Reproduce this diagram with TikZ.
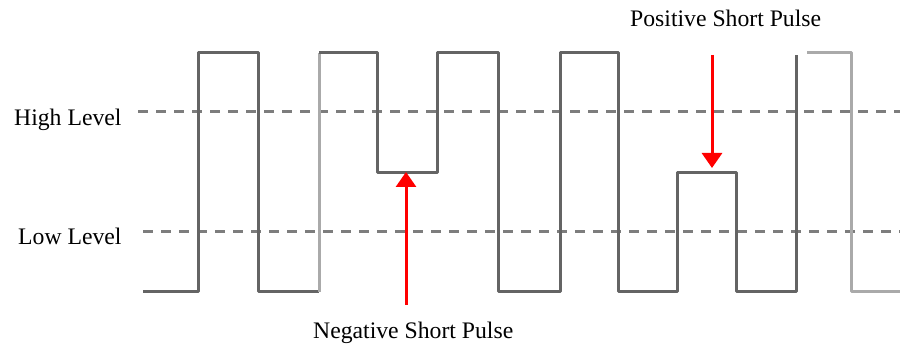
\documentclass[tikz,border=0pt]{standalone}
\usepackage{fontspec}
\setmainfont{Liberation Serif}
\usetikzlibrary{arrows.meta}
\definecolor{wave}{RGB}{100,100,100}
\definecolor{wavelight}{RGB}{170,170,170}
\definecolor{dashgray}{RGB}{125,125,125}
\definecolor{arrowred}{RGB}{255,0,0}
\tikzset{
  lbl/.style={anchor=base west,inner sep=0pt,font=\fontsize{23.7}{28}\selectfont},
  levelline/.style={draw=dashgray,line width=3pt,dash pattern=on 10pt off 8pt},
  waveline/.style={draw=wave,line width=3pt,line join=round},
  wavelite/.style={draw=wavelight,line width=3pt,line join=round},
  redarrow/.style={draw=arrowred,line width=3pt,-{Triangle[width=20pt,length=15pt]}}
}
\begin{document}
\begin{tikzpicture}[x=1pt,y=-1pt]
\useasboundingbox (0,0) rectangle (900,347);
% labels
\node[lbl] (high) at (14,126) {High Level};
\node[lbl] (low) at (18,245) {Low Level};
\node[lbl] (neg) at (313,339) {Negative Short Pulse};
\node[lbl] (pos) at (630,27) {Positive Short Pulse};
% level lines
\coordinate (hs) at (138,112); \coordinate (he) at (900,112);
\coordinate (ls) at (143,232); \coordinate (le) at (900,232);
\draw[levelline] (hs) -- (he);
\draw[levelline] (ls) -- (le);
% waveform
\draw[waveline] (143,292) -- (198,292) -- (198,53) -- (258,53) -- (258,292) -- (319,292);
\draw[wavelite] (319,292) -- (319,53);
\draw[waveline] (319,53) -- (377,53) -- (377,173) -- (437,173) -- (437,53) -- (498,53)
  -- (498,292) -- (560,292) -- (560,53) -- (618,53) -- (618,292) -- (677,292)
  -- (677,173) -- (736,173) -- (736,292) -- (796,292) -- (796,55);
\draw[wavelite] (807,53) -- (851,53) -- (851,292) -- (900,292);
% arrows
\coordinate (negtail) at (406,305);
\coordinate (negtip) at (406,172);
\coordinate (postail) at (712,55);
\coordinate (postip) at (712,168);
\draw[redarrow] (negtail) -- (negtip);
\draw[redarrow] (postail) -- (postip);
\end{tikzpicture}
\end{document}
